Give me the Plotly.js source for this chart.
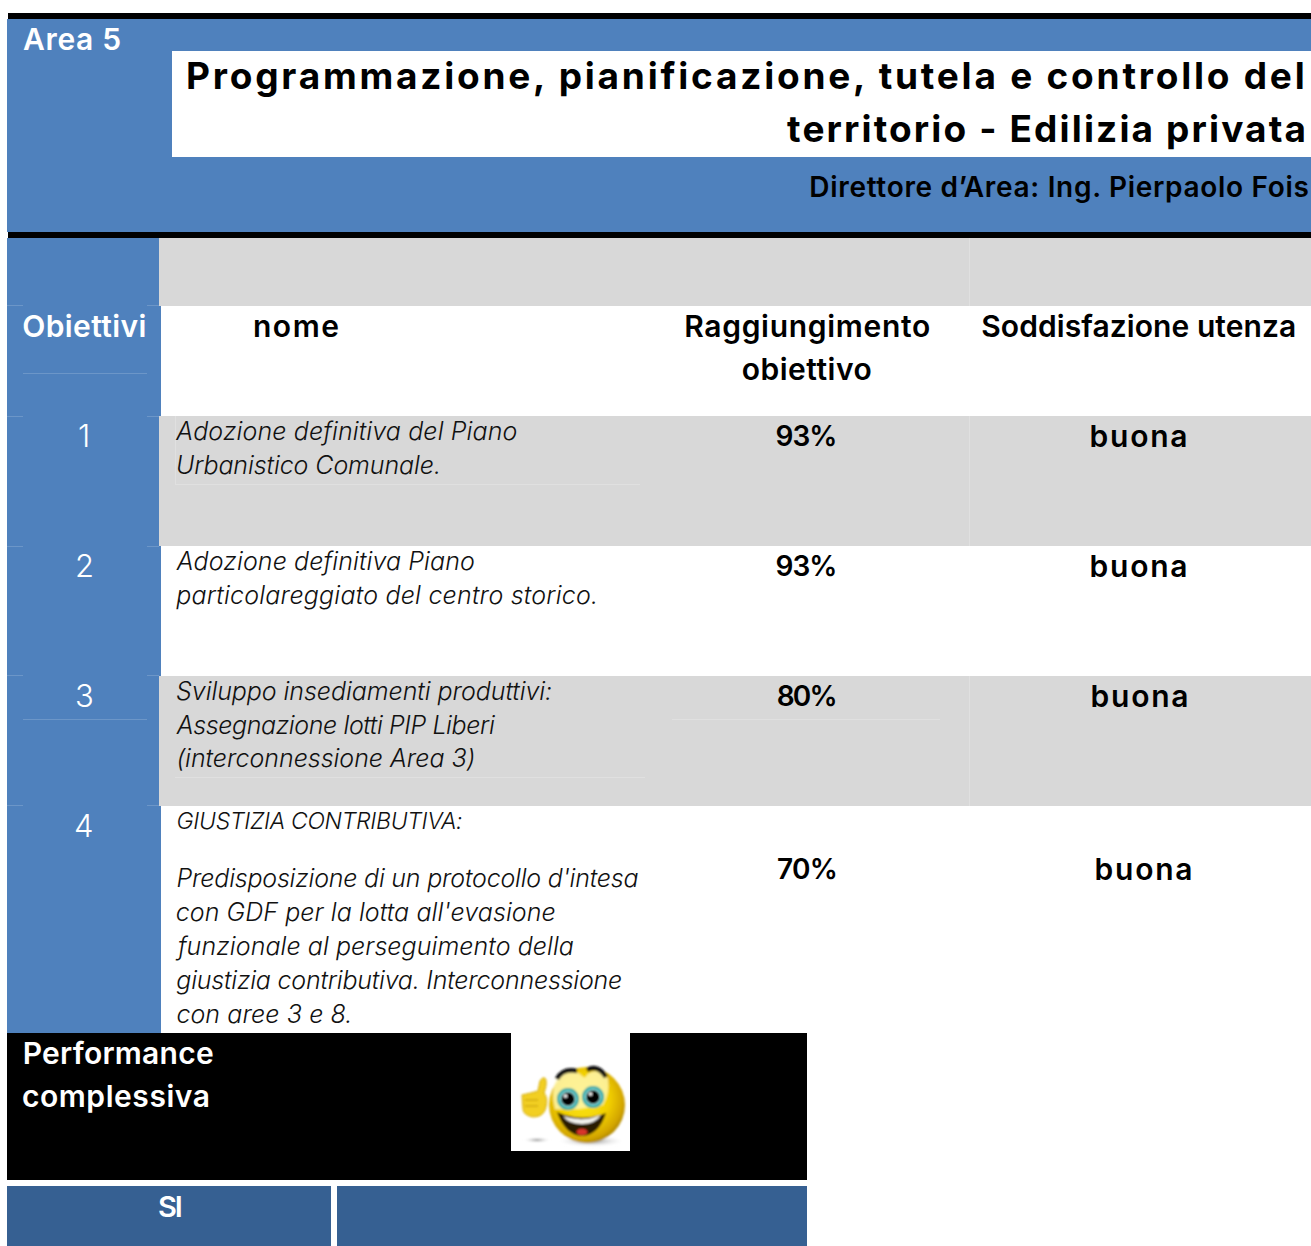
<!DOCTYPE html>
<html>
<head>
<meta charset="utf-8">
<script src="https://cdn.plot.ly/plotly-3.0.1.min.js"></script>
<style>
html,body{margin:0;padding:0;background:#fff;overflow:hidden}
#chart{width:1311px;height:1246px}
</style>
</head>
<body>
<div id="chart"></div>
<script>
// ---- content ----
const areaLabel = "Area 5";
const titleLines = ["Programmazione, pianificazione, tutela e controllo del", "territorio - Edilizia privata"];
const directorLabel = "Direttore d’Area: Ing. Pierpaolo Fois";
const sectionLabel = "Obiettivi";
const columnName = "nome";
const columnReach = ["Raggiungimento", "obiettivo"];
const columnSatisfaction = "Soddisfazione utenza";
const objectiveNumbers = ["1", "2", "3", "4"];
const objectiveNames = [
  ["Adozione definitiva del Piano", "Urbanistico Comunale."],
  ["Adozione definitiva Piano", "particolareggiato del centro storico."],
  ["Sviluppo insediamenti produttivi:", "Assegnazione lotti PIP Liberi", "(interconnessione Area 3)"],
  ["GIUSTIZIA CONTRIBUTIVA:", "Predisposizione di un protocollo d'intesa", "con GDF per la lotta all'evasione", "funzionale al perseguimento della", "giustizia contributiva. Interconnessione", "con aree 3 e 8."]
];
const reachValues = [93, 93, 80, 70];
const satisfactionValues = ["buona", "buona", "buona", "buona"];
const performanceLines = ["Performance", "complessiva"];
const footerLabel = "SI";

// ---- layout geometry (page pixels) ----
const BLUE = "#4F81BD", GREY = "#D8D8D8", DARK = "#366092", HAIR_B = "#6C96C8", HAIR_G = "#E0E0E0";
const rowCenter = [435, 565, 695, 825];
const valueCenter = [436, 566, 696, 869];
const nameLineY = [[431, 465], [561, 595], [691, 725, 758], [821, 878, 912, 946, 980, 1014]];
const nameRight = [[517, 441], [474, 598], [552, 494, 475], [462, 638, 556, 572, 622, 352]];
const reachExtent = [[775, 837], [775, 837], [776, 837], [776, 837]];
const satisfactionExtent = [[1090, 1188], [1090, 1188], [1091, 1189], [1095, 1193]];

const shapes = [];
function rect(x0, y0, x1, y1, c) {
  shapes.push({type: "rect", xref: "x", yref: "y", x0, y0, x1, y1, fillcolor: c, line: {width: 0}, layer: "below"});
}
function hair(x0, y0, x1, y1, c) {
  shapes.push({type: "line", xref: "x", yref: "y", x0, y0, x1, y1, line: {color: c, width: 1}, layer: "below"});
}
rect(8, 13, 1311, 19, "#000");
rect(7, 19, 1311, 232, BLUE);
rect(172, 51, 1311, 157, "#fff");
rect(8, 232, 1311, 238, "#000");
rect(7, 238, 161, 1033, BLUE);
rect(159, 238, 1311, 306, GREY);
rect(159, 416, 1311, 546, GREY);
rect(159, 676, 1311, 806, GREY);
rect(7, 1033, 807, 1180, "#000");
rect(7, 1186, 331, 1246, DARK);
rect(337, 1186, 807, 1246, DARK);
// faint cell borders
[305.5, 416.5, 546.5, 675.5, 805.5].forEach(y => { hair(7, y, 23, y, HAIR_B); hair(147, y, 159, y, HAIR_B); });
hair(23, 373.5, 147, 373.5, HAIR_B);
hair(23, 719.5, 147, 719.5, HAIR_B);
hair(969.5, 238, 969.5, 306, HAIR_G);
hair(969.5, 416, 969.5, 546, HAIR_G);
hair(969.5, 676, 969.5, 806, HAIR_G);
hair(175, 484.5, 640, 484.5, HAIR_G);
hair(175.5, 416, 175.5, 485, HAIR_G);
hair(175, 777.5, 645, 777.5, HAIR_G);
hair(672, 719.5, 940, 719.5, HAIR_G);

// ---- text: every line is fitted between a left and a right page position ----
const SANS = "Inter, 'Open Sans', sans-serif";
const annotations = [];
const rules = [];
const ctx = document.createElement("canvas").getContext("2d");
function fit(text, x0, x1, y, size, color, opts) {
  opts = opts || {};
  const weight = opts.weight || 600;
  ctx.font = (opts.italic ? "italic " : "") + weight + " " + size + "px Inter";
  const natural = ctx.measureText(text).width;
  const sp = (x1 - x0 - natural) / Math.max(1, text.length - 1);
  const idx = annotations.length;
  annotations.push({
    text: opts.italic ? "<i>" + text + "</i>" : text,
    xref: "x", yref: "y", x: (x0 + x1) / 2, y, xanchor: "center", yanchor: "middle",
    showarrow: false, borderpad: 0, borderwidth: 0,
    font: {family: SANS, size, color, weight},
  });
  rules.push(`.annotation[data-index="${idx}"] text{letter-spacing:${sp.toFixed(3)}px}`);
}

fit(areaLabel, 23, 121, 39, 30, "#fff");
fit(titleLines[0], 186, 1307, 75, 37, "#000", {weight: 700});
fit(titleLines[1], 788, 1307, 128, 37, "#000", {weight: 700});
fit(directorLabel, 809, 1309, 187, 28, "#000");
fit(sectionLabel, 22, 146, 326, 30, "#fff");
fit(columnName, 253, 339, 326, 30, "#000");
fit(columnReach[0], 684, 930, 326, 30, "#000");
fit(columnReach[1], 742, 872, 369, 30, "#000");
fit(columnSatisfaction, 981, 1296, 326, 30, "#000");

objectiveNumbers.forEach((n, i) => {
  annotations.push({
    text: n, xref: "x", yref: "y", x: 84, y: rowCenter[i], xanchor: "center", yanchor: "middle",
    showarrow: false, borderpad: 0,
    font: {family: SANS, size: 31, color: "#fff", weight: 300},
  });
  rules.push("");
  objectiveNames[i].forEach((line, j) => {
    fit(line, 176, nameRight[i][j], nameLineY[i][j], line === line.toUpperCase() ? 23 : 25, "#111", {italic: true, weight: 300});
  });
  fit(reachValues[i] + "%", reachExtent[i][0], reachExtent[i][1], valueCenter[i], 28, "#000");
  fit(satisfactionValues[i], satisfactionExtent[i][0], satisfactionExtent[i][1], valueCenter[i], 30, "#000");
});
fit(performanceLines[0], 23, 214, 1053, 30, "#fff");
fit(performanceLines[1], 22, 210, 1096, 30, "#fff");
fit(footerLabel, 157, 182, 1206, 29, "#fff");

const styleEl = document.createElement("style");
styleEl.textContent = rules.join("\n");
document.head.appendChild(styleEl);

// ---- smiley picture ----
const smiley = `<svg xmlns="http://www.w3.org/2000/svg" width="119" height="118" viewBox="0 0 119 118">
<defs>
<radialGradient id="f" cx="0.45" cy="0.42" r="0.62"><stop offset="0" stop-color="#FBE81E"/><stop offset="0.55" stop-color="#F2D000"/><stop offset="0.85" stop-color="#D2A400"/><stop offset="1" stop-color="#9E7A00"/></radialGradient>
<radialGradient id="s"><stop offset="0" stop-color="#808080"/><stop offset="1" stop-color="#fff" stop-opacity="0"/></radialGradient>
<filter id="b" x="-10%" y="-10%" width="120%" height="120%"><feGaussianBlur stdDeviation="0.9"/></filter>
</defs>
<rect width="119" height="118" fill="#fff"/>
<g filter="url(#b)">
<ellipse cx="26" cy="107" rx="14" ry="2.6" fill="url(#s)"/>
<ellipse cx="80" cy="108" rx="34" ry="6" fill="url(#s)"/>
<path d="M11 62 Q20 60 27 58 L29 48 Q33 42 35 47 Q36 52 33 60 Q37 64 35 74 Q33 84 22 84 Q12 82 12 76 Z" fill="#F2CF24" stroke="#D2A800" stroke-width="1"/>
<path d="M14 67 H27 M14 73 H27" stroke="#BF9800" stroke-width="1" fill="none"/>
<circle cx="76" cy="72" r="38" fill="url(#f)"/>
<path d="M47 42 Q58 33 70 42 Q74 47 76 42 Q86 33 97 46 Q99 60 92 72 L68 76 L44 76 Q39 58 47 42 Z" fill="#FFF8B8" opacity="0.8"/>
<path d="M46 46 Q52 35 66 38" stroke="#111" stroke-width="4.5" fill="none"/>
<path d="M76 37 Q87 31 95 44" stroke="#111" stroke-width="4.5" fill="none"/>
<circle cx="57" cy="66" r="9.5" fill="#BFF" stroke="#27A8A8" stroke-width="3"/>
<circle cx="82" cy="64" r="9.5" fill="#BFF" stroke="#27A8A8" stroke-width="3"/>
<circle cx="57" cy="66" r="7" fill="#050505"/>
<circle cx="82" cy="64" r="7" fill="#050505"/>
<circle cx="54.5" cy="63" r="1.8" fill="#fff"/>
<circle cx="79.5" cy="61" r="1.8" fill="#fff"/>
<path d="M46 79 Q71 90 95 80 Q88 102 71 103 Q54 102 46 79 Z" fill="#2A1A05"/>
<path d="M52 83 Q71 90 90 82 Q84 91 71 91 Q58 91 52 83 Z" fill="#F4F4F0"/>
<ellipse cx="71" cy="99" rx="5.5" ry="3.2" fill="#D8342A"/>
</g>
</svg>`;

const layout = {
  width: 1311, height: 1246,
  margin: {l: 0, r: 0, t: 0, b: 0, pad: 0},
  paper_bgcolor: "#fff", plot_bgcolor: "#fff",
  showlegend: false,
  xaxis: {range: [0, 1311], visible: false, fixedrange: true},
  yaxis: {range: [1246, 0], visible: false, fixedrange: true},
  shapes, annotations,
  images: [{
    source: "data:image/svg+xml;charset=utf-8," + encodeURIComponent(smiley),
    xref: "x", yref: "y", x: 511, y: 1033, sizex: 119, sizey: 118,
    xanchor: "left", yanchor: "top", sizing: "stretch", layer: "above"
  }]
};
Plotly.newPlot("chart", [], layout, {displayModeBar: false, staticPlot: true});
</script>
</body>
</html>
